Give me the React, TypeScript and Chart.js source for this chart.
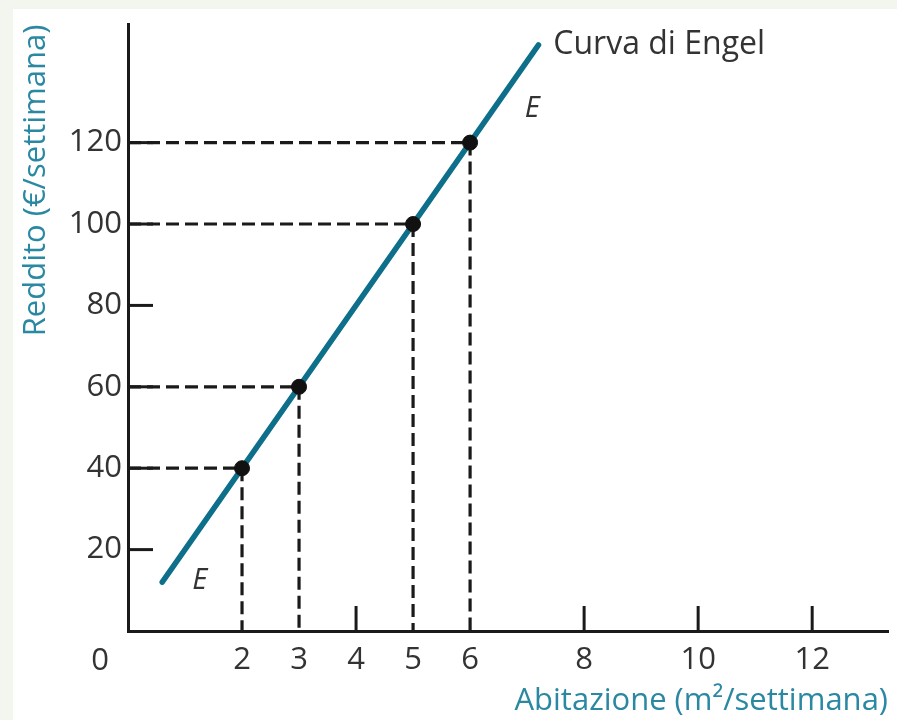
import React, { useEffect, useRef } from "react";
import { Chart, registerables } from "chart.js";

Chart.register(...registerables);

// Data
const xTickValues = [2, 3, 4, 5, 6, 8, 10, 12];
const yTickValues = [20, 40, 60, 80, 100, 120];
const curveX = [0.6, 7.2];
const curveY = [12, 144];
const pointX = [2, 3, 5, 6];
const pointY = [40, 60, 100, 120];
const xAxisTitle = "Abitazione (m²/settimana)";
const yAxisTitle = "Reddito (€/settimana)";
const curveName = "Curva di Engel";
const curveNameAt = { x: 7.46, y: 144 };
const eLabels = [
  { text: "E", x: 1.26, y: 12.4 },
  { text: "E", x: 7.09, y: 128.4 },
];

const FONT = "'Open Sans', Lato, sans-serif";
const TEAL = "#0e6f8b";
const TITLE_TEAL = "#2a88a3";
const INK = "#1a1a1a";
const TEXT = "#333333";

const decorPlugin = {
  id: "decor",
  beforeDraw(chart: any) {
    const ctx = chart.ctx;
    ctx.save();
    ctx.fillStyle = "#f3f5ef";
    ctx.fillRect(0, 0, chart.width, chart.height);
    ctx.fillStyle = "#ffffff";
    ctx.fillRect(13, 9, chart.width - 13, chart.height - 9);
    ctx.restore();
  },
  afterDatasetsDraw(chart: any) {
    const ctx = chart.ctx;
    const xs = chart.scales.x;
    const ys = chart.scales.y;
    const area = chart.chartArea;
    ctx.save();
    // inward tick marks
    ctx.strokeStyle = INK;
    ctx.lineWidth = 3;
    ctx.lineCap = "butt";
    yTickValues.forEach((v) => {
      const py = ys.getPixelForValue(v);
      ctx.beginPath();
      ctx.moveTo(area.left, py);
      ctx.lineTo(area.left + 25, py);
      ctx.stroke();
    });
    xTickValues.forEach((v) => {
      if (pointX.includes(v)) return;
      const px = xs.getPixelForValue(v);
      ctx.beginPath();
      ctx.moveTo(px, area.bottom);
      ctx.lineTo(px, area.bottom - 25);
      ctx.stroke();
    });
    // text labels
    ctx.fillStyle = TEXT;
    ctx.font = `32px ${FONT}`;
    ctx.textBaseline = "middle";
    ctx.textAlign = "left";
    ctx.fillText(curveName, xs.getPixelForValue(curveNameAt.x), ys.getPixelForValue(curveNameAt.y));
    ctx.font = `italic 29px ${FONT}`;
    ctx.textAlign = "center";
    eLabels.forEach((l) => {
      ctx.fillText(l.text, xs.getPixelForValue(l.x), ys.getPixelForValue(l.y));
    });
    // origin label
    ctx.font = `31px ${FONT}`;
    ctx.fillText("0", area.left - 28, 661);
    ctx.restore();
  },
};

export default function App() {
  const ref = useRef<HTMLCanvasElement | null>(null);

  useEffect(() => {
    if (!ref.current) return;
    const dashSets = pointX.map((px, i) => ({
      type: "line" as const,
      data: [
        { x: 0, y: pointY[i] },
        { x: px, y: pointY[i] },
        { x: px, y: 0 },
      ],
      borderColor: INK,
      borderWidth: 3.2,
      borderDash: [13, 6],
      pointRadius: 0,
      fill: false,
      order: 3,
    }));
    const chart = new Chart(ref.current, {
      type: "scatter",
      data: {
        datasets: [
          {
            type: "scatter",
            data: pointX.map((x, i) => ({ x, y: pointY[i] })),
            backgroundColor: "#111111",
            borderColor: "#111111",
            pointRadius: 7.5,
            pointHoverRadius: 7.5,
            order: 1,
          } as any,
          {
            type: "line",
            data: curveX.map((x, i) => ({ x, y: curveY[i] })),
            borderColor: TEAL,
            borderWidth: 5.5,
            borderCapStyle: "round",
            pointRadius: 0,
            fill: false,
            order: 2,
          } as any,
          ...dashSets,
        ],
      },
      options: {
        animation: false,
        responsive: false,
        maintainAspectRatio: false,
        events: [],
        layout: { padding: { top: 18, right: 9, left: 0, bottom: 0 } },
        plugins: { legend: { display: false }, tooltip: { enabled: false } },
        scales: {
          x: {
            type: "linear",
            min: 0,
            max: 13.33,
            grid: { display: false, drawTicks: false },
            border: { display: true, color: INK, width: 3 },
            afterBuildTicks: (s: any) => {
              s.ticks = xTickValues.map((v) => ({ value: v }));
            },
            afterFit: (s: any) => {
              s.height = 89;
            },
            ticks: {
              autoSkip: false,
              maxRotation: 0,
              padding: 11,
              color: TEXT,
              font: { family: FONT, size: 31 },
            },
            title: {
              display: true,
              text: xAxisTitle,
              align: "end",
              color: TITLE_TEAL,
              font: { family: FONT, size: 31 },
              padding: { top: 0, bottom: 0 },
            },
          },
          y: {
            type: "linear",
            min: 0,
            max: 149,
            grid: { display: false, drawTicks: false },
            border: { display: true, color: INK, width: 3 },
            afterBuildTicks: (s: any) => {
              s.ticks = yTickValues.map((v) => ({ value: v }));
            },
            afterFit: (s: any) => {
              s.width = 128;
            },
            ticks: {
              autoSkip: false,
              padding: 6,
              color: TEXT,
              font: { family: FONT, size: 31 },
            },
            title: {
              display: true,
              text: yAxisTitle,
              align: "end",
              color: TITLE_TEAL,
              font: { family: FONT, size: 31 },
              padding: { top: 18, bottom: 0 },
            },
          },
        },
      },
      plugins: [decorPlugin],
    });
    return () => chart.destroy();
  }, []);

  return (
    <div style={{ position: "fixed", left: 0, top: 0, width: 897, height: 720 }}>
      <canvas ref={ref} width={897} height={720} style={{ display: "block", width: 897, height: 720 }} />
    </div>
  );
}
